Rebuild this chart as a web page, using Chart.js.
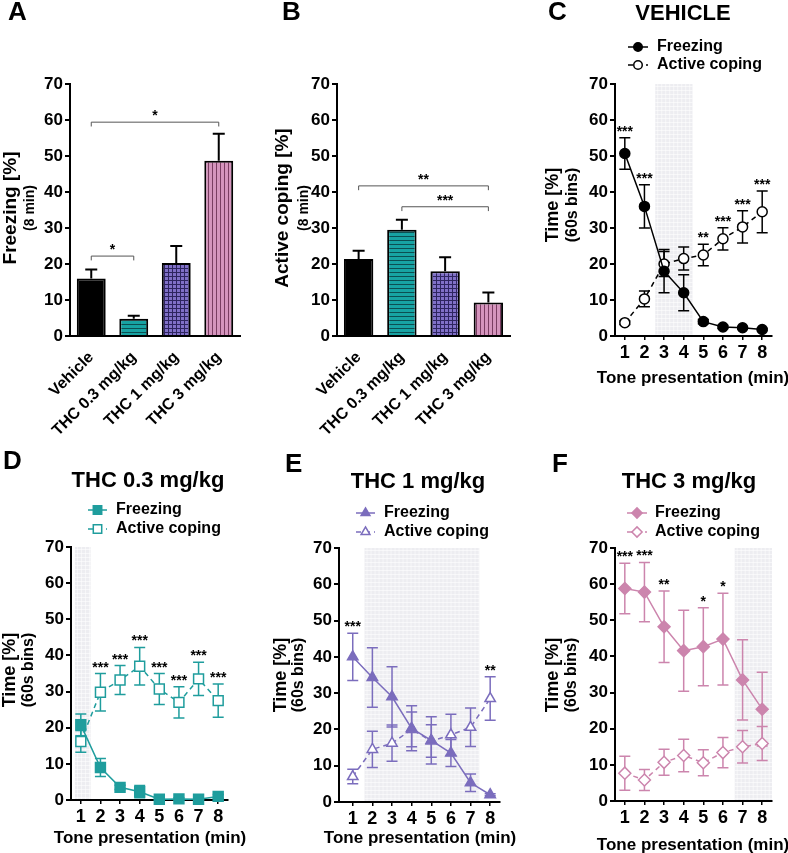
<!DOCTYPE html>
<html>
<head>
<meta charset="utf-8">
<script src="https://cdn.jsdelivr.net/npm/chart.js@4.4.1/dist/chart.umd.min.js"></script>
<style>
  body { margin: 0; background: #fff; width: 788px; height: 853px; position: relative; overflow: hidden; }
  canvas { position: absolute; }
</style>
</head>
<body>
<canvas id="cA" width="260" height="450" style="left:0;top:0"></canvas>
<canvas id="cB" width="260" height="450" style="left:260px;top:0"></canvas>
<canvas id="cC" width="268" height="420" style="left:520px;top:0"></canvas>
<canvas id="cD" width="260" height="433" style="left:0;top:420px"></canvas>
<canvas id="cE" width="260" height="433" style="left:260px;top:420px"></canvas>
<canvas id="cF" width="268" height="433" style="left:520px;top:420px"></canvas>
<script>
// ---- data ----
const groups = ['Vehicle', 'THC 0.3 mg/kg', 'THC 1 mg/kg', 'THC 3 mg/kg'];
const freezingTotal = [16.0, 4.8, 20.3, 48.7];
const freezingTotalSem = [2.5, 0.8, 4.7, 7.5];
const copingTotal = [21.4, 29.5, 18.0, 9.3];
const copingTotalSem = [2.3, 2.8, 3.9, 2.8];
const yTicks = [0, 10, 20, 30, 40, 50, 60, 70];
const minutes = [1, 2, 3, 4, 5, 6, 7, 8];

const vehFreezing = [50.7, 36.0, 18.0, 12.0, 4.0, 2.5, 2.3, 1.8];
const vehFreezingSem = [4.4, 6.0, 6.0, 5.0, 0.6, 0.4, 0.3, 0.3];
const vehCoping = [3.7, 10.3, 20.0, 21.5, 22.5, 27.0, 30.3, 34.5];
const vehCopingSem = [0.5, 2.2, 3.5, 3.2, 3.0, 3.1, 4.5, 5.8];
const vehStars = ['***', '***', '', '', '**', '***', '***', '***'];
const vehShade = [2.55, 4.45];

const lowFreezing = [20.8, 9.0, 3.5, 2.3, 0.2, 0.3, 0.2, 1.0];
const lowFreezingSem = [3.0, 2.5, 0.6, 1.7, 0.2, 0.3, 0.2, 0.5];
const lowCoping = [16.2, 29.8, 33.2, 37.0, 30.7, 27.0, 33.5, 27.5];
const lowCopingSem = [3.0, 5.2, 4.0, 5.2, 4.3, 4.3, 4.6, 4.6];
const lowStars = ['', '***', '***', '***', '***', '***', '***', '***'];
const lowShade = [0.7, 1.5];

const midFreezing = [40.0, 34.3, 29.0, 20.3, 17.0, 13.5, 5.3, 2.0];
const midFreezingSem = [6.5, 8.2, 8.3, 6.2, 6.5, 3.7, 2.4, 0.3];
const midCoping = [7.0, 14.5, 16.2, 20.0, 16.8, 18.5, 20.6, 28.5];
const midCopingSem = [2.0, 5.0, 5.0, 4.8, 4.5, 5.7, 5.3, 6.0];
const midStars = ['***', '', '', '', '', '', '', '**'];
const midShade = [1.6, 7.45];

const highFreezing = [58.8, 57.8, 48.2, 41.6, 42.7, 44.8, 33.5, 25.4];
const highFreezingSem = [7.0, 8.2, 9.9, 11.2, 10.8, 12.7, 11.1, 10.2];
const highCoping = [7.7, 5.8, 10.7, 12.6, 10.6, 13.4, 15.0, 15.9];
const highCopingSem = [4.7, 2.9, 3.6, 4.5, 3.6, 4.2, 4.5, 4.7];
const highStars = ['***', '***', '**', '', '*', '*', '', ''];
const highShade = [6.6, 8.5];

const freezingBrackets = [{ a: 0, b: 1, y: 22.2, label: '*' }, { a: 0, b: 3, y: 59.4, label: '*' }];
const copingBrackets = [{ a: 0, b: 3, y: 41.7, label: '**' }, { a: 1, b: 3, y: 35.9, label: '***' }];

// ---- styling ----
const FONT = '"Liberation Sans", Arial, sans-serif';
const teal = '#1f9d9d';
const purple = '#7b6dbd';
const pink = '#cc85ad';

Chart.defaults.font.family = FONT;
Chart.defaults.font.weight = 'bold';
Chart.defaults.color = '#000';

function pattern(bg, fg, kind, n) {
  const c = document.createElement('canvas');
  c.width = n; c.height = n;
  const g = c.getContext('2d');
  g.fillStyle = bg; g.fillRect(0, 0, n, n);
  g.fillStyle = fg;
  if (kind !== 'v') g.fillRect(0, 0, n, 1);
  if (kind !== 'h') g.fillRect(0, 0, 1, n);
  return g.createPattern(c, 'repeat');
}
const barFills = [
  '#000',
  pattern('#17a3a3', '#0b4f52', 'h', 4),
  pattern('#8070c8', '#2e2560', 'grid', 4),
  pattern('#d594bd', '#7a3d62', 'v', 4)
];

function drawErr(chart, both) {
  const { ctx, scales: { y } } = chart;
  chart.data.datasets.forEach((ds, i) => {
    if (!ds.sem) return;
    const meta = chart.getDatasetMeta(i);
    ctx.strokeStyle = both ? ds.borderColor : '#000';
    ctx.lineWidth = both ? 1.5 : 2;
    ctx.setLineDash([]);
    meta.data.forEach((el, j) => {
      const v = typeof ds.data[j] === 'number' ? ds.data[j] : ds.data[j].y;
      const top = y.getPixelForValue(v + ds.sem[j]);
      const bot = both ? y.getPixelForValue(Math.max(0, v - ds.sem[j])) : el.y;
      const cap = both ? 5.5 : 6;
      ctx.beginPath();
      ctx.moveTo(el.x, top); ctx.lineTo(el.x, bot);
      ctx.moveTo(el.x - cap, top); ctx.lineTo(el.x + cap, top);
      if (both) { ctx.moveTo(el.x - cap, bot); ctx.lineTo(el.x + cap, bot); }
      ctx.stroke();
    });
  });
}

const decor = {
  id: 'decor',
  beforeDatasetsDraw(chart, args, o) {
    const { ctx, scales: { x, y } } = chart;
    ctx.save();
    if (o.shade) {
      const x0 = x.getPixelForValue(o.shade[0]), x1 = x.getPixelForValue(o.shade[1]);
      const y0 = y.getPixelForValue(70), y1 = y.getPixelForValue(0) - 1;
      ctx.fillStyle = '#ededf1';
      ctx.fillRect(x0, y0, x1 - x0, y1 - y0);
      ctx.strokeStyle = 'rgba(255,255,255,0.55)';
      ctx.lineWidth = 1;
      ctx.beginPath();
      for (let gx = x0 + 2.5; gx < x1; gx += 4) { ctx.moveTo(gx, y0); ctx.lineTo(gx, y1); }
      for (let gy = y0 + 2.5; gy < y1; gy += 4) { ctx.moveTo(x0, gy); ctx.lineTo(x1, gy); }
      ctx.stroke();
    }
    if (!o.barErr) drawErr(chart, true);
    ctx.restore();
  },
  afterDatasetsDraw(chart, args, o) {
    const { ctx, scales: { x, y } } = chart;
    ctx.save();
    if (o.barErr) drawErr(chart, false);
    ctx.fillStyle = '#000';
    ctx.textAlign = 'center';
    ctx.textBaseline = 'alphabetic';
    if (o.stars) {
      ctx.font = 'bold 14px ' + FONT;
      o.stars.forEach((s, j) => {
        if (!s) return;
        let top = 0;
        chart.data.datasets.forEach(ds => { top = Math.max(top, ds.data[j].y + ds.sem[j]); });
        ctx.fillText(s, x.getPixelForValue(minutes[j]), y.getPixelForValue(top) - 2);
      });
    }
    if (o.brackets) {
      ctx.strokeStyle = '#555';
      ctx.lineWidth = 1;
      ctx.font = 'bold 14px ' + FONT;
      o.brackets.forEach(b => {
        const xa = x.getPixelForValue(b.a), xb = x.getPixelForValue(b.b);
        const yy = y.getPixelForValue(b.y), yd = y.getPixelForValue(b.y - 1.2);
        ctx.beginPath();
        ctx.moveTo(xa, yd); ctx.lineTo(xa, yy); ctx.lineTo(xb, yy); ctx.lineTo(xb, yd);
        ctx.stroke();
        ctx.fillText(b.label, (xa + xb) / 2, yy - 2);
      });
    }
    ctx.restore();
  },
  afterDraw(chart, args, o) {
    const { ctx } = chart;
    ctx.save();
    if (o.legend) {
      const L = o.legend;
      chart.data.datasets.forEach((ds, i) => {
        const yy = L.ys[i];
        ctx.strokeStyle = ds.borderColor;
        ctx.lineWidth = 1.5;
        ctx.setLineDash(ds.borderDash || []);
        ctx.beginPath(); ctx.moveTo(L.x0, yy); ctx.lineTo(L.x1, yy); ctx.stroke();
        ctx.setLineDash([]);
        ctx.fillStyle = ds.pointBackgroundColor;
        ctx.strokeStyle = ds.pointBorderColor;
        Chart.helpers.drawPoint(ctx, { pointStyle: ds.pointStyle, radius: ds.pointRadius * 0.85, borderWidth: 1.5, rotation: 0 }, (L.x0 + L.x1) / 2, yy);
        ctx.fillStyle = '#000';
        ctx.font = 'bold 16px ' + FONT;
        ctx.textAlign = 'left';
        ctx.textBaseline = 'middle';
        ctx.fillText(ds.label, L.tx, yy);
      });
    }
    (o.texts || []).forEach(t => {
      ctx.save();
      ctx.translate(t.x, t.y);
      if (t.rot) ctx.rotate(t.rot * Math.PI / 180);
      ctx.font = 'bold ' + t.size + 'px ' + FONT;
      ctx.textAlign = t.align || 'center';
      ctx.textBaseline = 'middle';
      ctx.fillStyle = '#000';
      ctx.fillText(t.t, 0, 0);
      ctx.restore();
    });
    ctx.restore();
  }
};
Chart.register(decor);

function yAxis(w) {
  return {
    min: 0, max: 70,
    afterFit: s => { s.width = w; },
    afterBuildTicks: s => { s.ticks = yTicks.map(v => ({ value: v })); },
    grid: { drawOnChartArea: false, tickLength: 5, color: '#000', lineWidth: 2 },
    border: { color: '#000', width: 2 },
    ticks: { font: { size: 17, weight: 'bold' }, color: '#000', padding: 2 }
  };
}

function barChart(id, values, sem, brackets, box, texts) {
  const [L, T, R, B, W, H] = box;
  return new Chart(document.getElementById(id), {
    type: 'bar',
    data: {
      labels: groups,
      datasets: [{
        data: values, sem: sem,
        backgroundColor: barFills, borderColor: '#000', borderWidth: 2,
        barPercentage: 0.68, categoryPercentage: 1
      }]
    },
    options: {
      responsive: false, animation: false, devicePixelRatio: 1,
      layout: { padding: { top: T, right: W - R, left: 0, bottom: 0 } },
      scales: {
        x: {
          afterFit: s => { s.height = H - B; },
          grid: { display: false },
          border: { color: '#000', width: 2 },
          ticks: { minRotation: 45, maxRotation: 45, autoSkip: false, font: { size: 16, weight: 'bold' }, color: '#000', padding: 4 }
        },
        y: yAxis(L)
      },
      plugins: {
        legend: { display: false }, tooltip: { enabled: false },
        decor: { barErr: true, brackets: brackets, texts: texts }
      }
    }
  });
}

const pts = arr => arr.map((v, i) => ({ x: minutes[i], y: v }));

function lineChart(id, color, style, r, fr, frSem, ac, acSem, stars, shade, box, xmin, legend, texts) {
  const [L, T, R, B, W, H] = box;
  return new Chart(document.getElementById(id), {
    type: 'line',
    data: {
      datasets: [
        { label: 'Freezing', data: pts(fr), sem: frSem, borderColor: color, backgroundColor: color,
          pointStyle: style, pointRadius: r, pointBorderColor: color, pointBackgroundColor: color,
          borderWidth: 1.5, pointBorderWidth: 1.5, clip: false },
        { label: 'Active coping', data: pts(ac), sem: acSem, borderColor: color, backgroundColor: '#fff',
          borderDash: [5, 4], pointStyle: style, pointRadius: r, pointBorderColor: color, pointBackgroundColor: '#fff',
          borderWidth: 1.5, pointBorderWidth: 1.5, clip: false }
      ]
    },
    options: {
      responsive: false, animation: false, devicePixelRatio: 1,
      layout: { padding: { top: T, right: W - R, left: 0, bottom: 0 } },
      scales: {
        x: {
          type: 'linear', min: xmin, max: 8.5,
          afterFit: s => { s.height = H - B; },
          afterBuildTicks: s => { s.ticks = minutes.map(v => ({ value: v })); },
          grid: { drawOnChartArea: false, tickLength: 4, color: '#000', lineWidth: 1.5 },
          border: { color: '#000', width: 2 },
          ticks: { font: { size: 18, weight: 'bold' }, color: '#000', padding: 2 }
        },
        y: yAxis(L)
      },
      plugins: {
        legend: { display: false }, tooltip: { enabled: false },
        decor: { shade: shade, stars: stars, legend: legend, texts: texts }
      }
    }
  });
}

// ---- panels ----
barChart('cA', freezingTotal, freezingTotalSem, freezingBrackets, [70, 84, 240, 336, 260, 450], [
  { t: 'A', x: 8, y: 13, size: 26, align: 'left' },
  { t: 'Freezing [%]', x: 11, y: 208, size: 19, rot: -90 },
  { t: '(8 min)', x: 30, y: 208, size: 14, rot: -90 }
]);

barChart('cB', copingTotal, copingTotalSem, copingBrackets, [77, 84, 250, 336, 260, 450], [
  { t: 'B', x: 22, y: 13, size: 26, align: 'left' },
  { t: 'Active coping [%]', x: 23, y: 208, size: 19, rot: -90 },
  { t: '(8 min)', x: 44, y: 208, size: 14, rot: -90 }
]);

lineChart('cC', '#000', 'circle', 5, vehFreezing, vehFreezingSem, vehCoping, vehCopingSem, vehStars, vehShade,
  [95, 84, 252, 336, 268, 420], 0.5,
  { x0: 108, x1: 128, tx: 137, ys: [47, 65] }, [
  { t: 'C', x: 28, y: 13, size: 26, align: 'left' },
  { t: 'VEHICLE', x: 163, y: 14, size: 22 },
  { t: 'Time [%]', x: 33, y: 205, size: 18, rot: -90 },
  { t: '(60s bins)', x: 53, y: 205, size: 16, rot: -90 },
  { t: 'Tone presentation (min)', x: 173, y: 378, size: 17 }
]);

lineChart('cD', teal, 'rect', 7, lowFreezing, lowFreezingSem, lowCoping, lowCopingSem, lowStars, lowShade,
  [71, 127, 228, 380, 260, 433], 0.5,
  { x0: 88, x1: 107, tx: 116, ys: [90, 109] }, [
  { t: 'D', x: 3, y: 42, size: 26, align: 'left' },
  { t: 'THC 0.3 mg/kg', x: 148, y: 61, size: 22 },
  { t: 'Time [%]', x: 10, y: 250, size: 18, rot: -90 },
  { t: '(60s bins)', x: 29, y: 250, size: 16, rot: -90 },
  { t: 'Tone presentation (min)', x: 150, y: 418, size: 17 }
]);

lineChart('cE', purple, 'triangle', 6, midFreezing, midFreezingSem, midCoping, midCopingSem, midStars, midShade,
  [79, 128, 240, 382, 260, 433], 0.3,
  { x0: 96, x1: 115, tx: 124, ys: [93, 112] }, [
  { t: 'E', x: 25, y: 45, size: 26, align: 'left' },
  { t: 'THC 1 mg/kg', x: 158, y: 62, size: 22 },
  { t: 'Time [%]', x: 21, y: 255, size: 18, rot: -90 },
  { t: '(60s bins)', x: 39, y: 255, size: 16, rot: -90 },
  { t: 'Tone presentation (min)', x: 160, y: 418, size: 17 }
]);

lineChart('cF', pink, 'rectRot', 6, highFreezing, highFreezingSem, highCoping, highCopingSem, highStars, highShade,
  [95, 128, 252, 381, 268, 433], 0.5,
  { x0: 107, x1: 127, tx: 135, ys: [93, 112] }, [
  { t: 'F', x: 32, y: 45, size: 26, align: 'left' },
  { t: 'THC 3 mg/kg', x: 169, y: 62, size: 22 },
  { t: 'Time [%]', x: 33, y: 255, size: 18, rot: -90 },
  { t: '(60s bins)', x: 52, y: 255, size: 16, rot: -90 },
  { t: 'Tone presentation (min)', x: 173, y: 425, size: 17 }
]);
</script>
</body>
</html>
